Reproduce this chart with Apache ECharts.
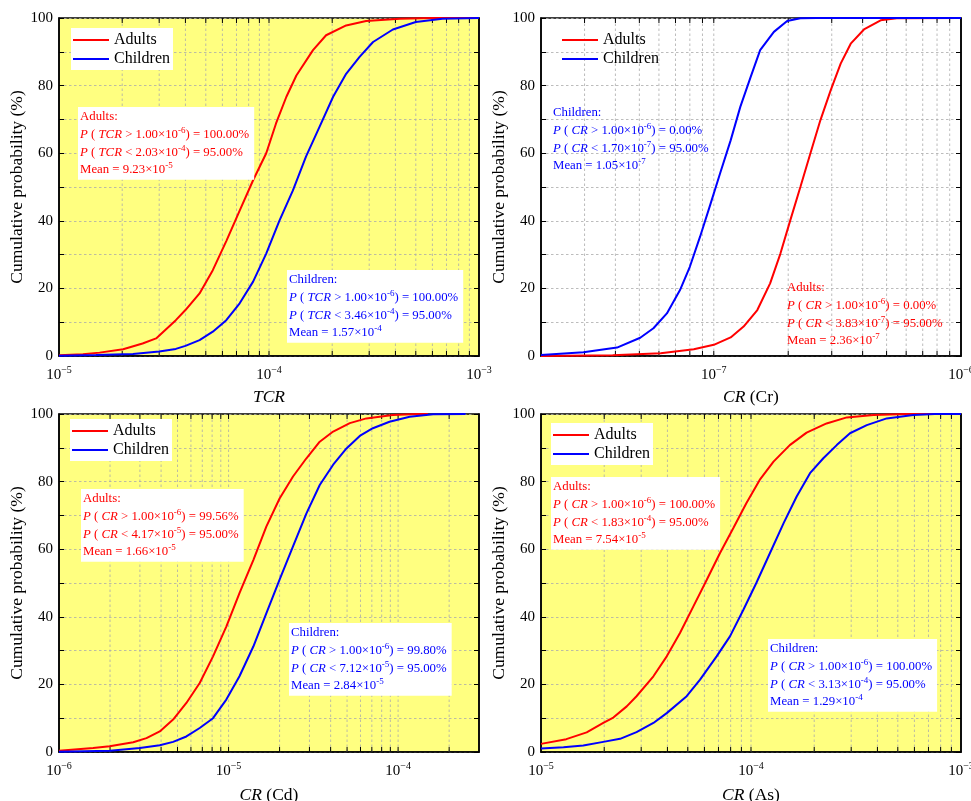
<!DOCTYPE html>
<html><head><meta charset="utf-8">
<script src="https://cdn.jsdelivr.net/npm/echarts@6/dist/echarts.min.js"></script>
<style>html,body{margin:0;padding:0;background:#fff}#c{width:971px;height:801px}</style>
</head><body><div id="c"></div>
<script>
const FONT = '"Liberation Serif", "Times New Roman", serif';

// ---------- DATA ----------
const seriesNames = ['Adults', 'Children'];
const yTicks = [0, 20, 40, 60, 80, 100];

// Panel 1: TCR
const tcrAdultsX = [1e-5, 1.3e-5, 1.56e-5, 2.02e-5, 2.5e-5, 2.9e-5, 3.6e-5, 4.0e-5, 4.67e-5, 5.4e-5, 6.26e-5, 7.25e-5, 8.4e-5, 9.7e-5, 1.08e-4, 1.21e-4, 1.35e-4, 1.62e-4, 1.87e-4, 2.33e-4, 2.9e-4, 4.2e-4, 6e-4, 1e-3];
const tcrAdultsY = [0.2, 0.5, 1.0, 2.0, 3.7, 5.2, 10.6, 13.6, 18.5, 25.4, 34, 43, 52, 60, 68.8, 76.7, 83, 90.5, 94.9, 97.8, 99.1, 99.8, 100, 100];
const tcrChildrenX = [1e-5, 1.5e-5, 2.25e-5, 3.0e-5, 3.6e-5, 4.0e-5, 4.67e-5, 5.4e-5, 6.26e-5, 7.25e-5, 8.4e-5, 9.7e-5, 1.12e-4, 1.3e-4, 1.5e-4, 1.74e-4, 2.02e-4, 2.33e-4, 2.7e-4, 3.13e-4, 3.89e-4, 5.0e-4, 6.7e-4, 1e-3];
const tcrChildrenY = [0.1, 0.3, 0.6, 1.3, 2.1, 3.0, 4.7, 7.2, 10.6, 15.6, 22, 30.3, 40, 49, 59, 67.8, 76.7, 83.5, 88.5, 92.9, 96.6, 98.8, 99.8, 100];

// Panel 2: CR (Cr)
const crAdultsX = [2e-8, 3.9e-8, 6.1e-8, 8.3e-8, 1e-7, 1.17e-7, 1.32e-7, 1.5e-7, 1.69e-7, 1.86e-7, 2.04e-7, 2.24e-7, 2.46e-7, 2.7e-7, 2.97e-7, 3.26e-7, 3.58e-7, 4.05e-7, 4.73e-7, 5.5e-7, 1e-6];
const crAdultsY = [0, 0.2, 0.8, 2.0, 3.3, 5.5, 8.7, 13.6, 21.5, 30.3, 40.2, 50, 60, 69.8, 78.6, 86.5, 92.4, 96.6, 99.3, 99.9, 100];
const crChildrenX = [2e-8, 2.97e-8, 4.06e-8, 5.04e-8, 5.7e-8, 6.46e-8, 7.3e-8, 8.0e-8, 8.8e-8, 9.7e-8, 1.06e-7, 1.17e-7, 1.28e-7, 1.41e-7, 1.54e-7, 1.75e-7, 1.98e-7, 2.24e-7, 2.6e-7, 1e-6];
const crChildrenY = [0.3, 1.1, 2.5, 5.4, 8.2, 12.6, 19.5, 26.4, 35.3, 45, 54, 63.8, 73.7, 82.6, 90.5, 95.9, 99.1, 99.9, 100, 100];

// Panel 3: CR (Cd)
const cdAdultsX = [1e-6, 1.59e-6, 1.99e-6, 2.74e-6, 3.28e-6, 3.93e-6, 4.71e-6, 5.64e-6, 6.76e-6, 8.1e-6, 9.7e-6, 1.16e-5, 1.4e-5, 1.67e-5, 2.0e-5, 2.4e-5, 2.88e-5, 3.45e-5, 4.14e-5, 5.19e-5, 6.5e-5, 9.3e-5, 1.3e-4, 1.5e-4];
const cdAdultsY = [0.4, 1.2, 1.7, 2.9, 4.1, 6.1, 9.6, 14.5, 20.4, 28.3, 37.1, 47, 56.8, 66.7, 75, 81.5, 86.9, 91.8, 94.8, 97.3, 98.7, 99.7, 100, 100];
const cdChildrenX = [1e-6, 2e-6, 3e-6, 3.93e-6, 4.71e-6, 5.64e-6, 6.76e-6, 8.1e-6, 9.7e-6, 1.16e-5, 1.4e-5, 1.67e-5, 2.0e-5, 2.4e-5, 2.88e-5, 3.45e-5, 4.14e-5, 4.96e-5, 5.94e-5, 7.1e-5, 8.9e-5, 1.17e-4, 1.61e-4, 2.5e-4];
const cdChildrenY = [0.1, 0.4, 1.2, 2.0, 3.0, 4.6, 7.1, 10, 15.5, 22.4, 31.2, 41, 51, 60.8, 70.6, 79, 85, 89.8, 93.5, 95.8, 97.7, 99.2, 99.9, 100];

// Panel 4: CR (As)
const asAdultsX = [1e-5, 1.32e-5, 1.65e-5, 1.98e-5, 2.21e-5, 2.56e-5, 2.85e-5, 3.43e-5, 3.97e-5, 4.59e-5, 5.31e-5, 6.15e-5, 7.11e-5, 8.23e-5, 9.5e-5, 1.1e-4, 1.28e-4, 1.53e-4, 1.84e-4, 2.29e-4, 2.86e-4, 3.83e-4, 5.5e-4, 1e-3];
const asAdultsY = [2.4, 3.8, 5.8, 8.6, 10.2, 13.5, 16.5, 22.4, 28.3, 35.2, 43, 50.9, 58.8, 66.2, 73.6, 80.5, 85.9, 90.8, 94.5, 97.2, 99, 99.7, 100, 100];
const asChildrenX = [1e-5, 1.28e-5, 1.59e-5, 1.98e-5, 2.38e-5, 2.85e-5, 3.43e-5, 3.97e-5, 4.94e-5, 5.72e-5, 6.86e-5, 7.94e-5, 9.2e-5, 1.06e-4, 1.23e-4, 1.43e-4, 1.65e-4, 1.91e-4, 2.21e-4, 2.56e-4, 2.96e-4, 3.56e-4, 4.43e-4, 5.93e-4, 7.5e-4, 1e-3];
const asChildrenY = [1, 1.4, 1.9, 3, 3.9, 5.9, 8.6, 11.5, 16.5, 21.4, 28.3, 34.2, 42.1, 50, 58.8, 67.7, 75.6, 82.5, 86.9, 90.8, 94.3, 96.7, 98.7, 99.7, 100, 100];

// x-axis ranges and tick values (decades and in-decade multipliers)
const xMins = [1e-5, 2e-8, 1e-6, 1e-5];
const xMaxs = [1e-3, 1e-6, 3e-4, 1e-3];
const decades = [1e-9, 1e-8, 1e-7, 1e-6, 1e-5, 1e-4, 1e-3];
const multipliers = [1, 2, 3, 4, 5, 6, 7, 8, 9];
const xTitles = ['{i|TCR}', '{i|CR} (Cr)', '{i|CR} (Cd)', '{i|CR} (As)'];

// annotation texts
const annotTexts = [
  [ // panel 1 adults
    'Adults:',
    '{i|P} ( {i|TCR} > 1.00×10{s|-6}) = 100.00%',
    '{i|P} ( {i|TCR} < 2.03×10{s|-4}) = 95.00%',
    'Mean = 9.23×10{s|-5}'
  ],
  [ // panel 1 children
    'Children:',
    '{i|P} ( {i|TCR} > 1.00×10{s|-6}) = 100.00%',
    '{i|P} ( {i|TCR} < 3.46×10{s|-4}) = 95.00%',
    'Mean = 1.57×10{s|-4}'
  ],
  [ // panel 2 children
    'Children:',
    '{i|P} ( {i|CR} > 1.00×10{s|-6}) = 0.00%',
    '{i|P} ( {i|CR} < 1.70×10{s|-7}) = 95.00%',
    'Mean = 1.05×10{s|-7}'
  ],
  [ // panel 2 adults
    'Adults:',
    '{i|P} ( {i|CR} > 1.00×10{s|-6}) = 0.00%',
    '{i|P} ( {i|CR} < 3.83×10{s|-7}) = 95.00%',
    'Mean = 2.36×10{s|-7}'
  ],
  [ // panel 3 adults
    'Adults:',
    '{i|P} ( {i|CR} > 1.00×10{s|-6}) = 99.56%',
    '{i|P} ( {i|CR} < 4.17×10{s|-5}) = 95.00%',
    'Mean = 1.66×10{s|-5}'
  ],
  [ // panel 3 children
    'Children:',
    '{i|P} ( {i|CR} > 1.00×10{s|-6}) = 99.80%',
    '{i|P} ( {i|CR} < 7.12×10{s|-5}) = 95.00%',
    'Mean = 2.84×10{s|-5}'
  ],
  [ // panel 4 adults
    'Adults:',
    '{i|P} ( {i|CR} > 1.00×10{s|-6}) = 100.00%',
    '{i|P} ( {i|CR} < 1.83×10{s|-4}) = 95.00%',
    'Mean = 7.54×10{s|-5}'
  ],
  [ // panel 4 children
    'Children:',
    '{i|P} ( {i|CR} > 1.00×10{s|-6}) = 100.00%',
    '{i|P} ( {i|CR} < 3.13×10{s|-4}) = 95.00%',
    'Mean = 1.29×10{s|-4}'
  ]
];

// ---------- LAYOUT / STYLE ----------
const RED = '#FF0000', BLUE = '#0000FF';
const GRIDLINE = '#ababab';
const grids = [
  {left: 59, top: 18, width: 420, height: 338, bg: '#FFFF80', nameGap: 32},
  {left: 541, top: 18, width: 420, height: 338, bg: '#FFFFFF', nameGap: 32},
  {left: 59, top: 414, width: 420, height: 338, bg: '#FFFF80', nameGap: 34},
  {left: 541, top: 414, width: 420, height: 338, bg: '#FFFF80', nameGap: 34}
];
const legendPos = [
  {left: 71, top: 28, bg: '#fff'},
  {left: 560, top: 28, bg: 'transparent'},
  {left: 70, top: 419, bg: '#fff'},
  {left: 551, top: 423, bg: '#fff'}
];
const annotPos = [
  {left: 78, top: 107, color: RED, bg: '#fff'},
  {left: 287, top: 270, color: BLUE, bg: '#fff'},
  {left: 551, top: 103, color: BLUE, bg: 'transparent'},
  {left: 785, top: 278, color: RED, bg: 'transparent'},
  {left: 81, top: 489, color: RED, bg: '#fff'},
  {left: 289, top: 623, color: BLUE, bg: '#fff'},
  {left: 551, top: 477, color: RED, bg: '#fff'},
  {left: 768, top: 639, color: BLUE, bg: '#fff'}
];

const zip = (xs, ys) => xs.map((x, i) => [x, ys[i]]);
const panelData = [
  [zip(tcrAdultsX, tcrAdultsY), zip(tcrChildrenX, tcrChildrenY)],
  [zip(crAdultsX, crAdultsY), zip(crChildrenX, crChildrenY)],
  [zip(cdAdultsX, cdAdultsY), zip(cdChildrenX, cdChildrenY)],
  [zip(asAdultsX, asAdultsY), zip(asChildrenX, asChildrenY)]
];

const allXTicks = [];
decades.forEach(d => multipliers.forEach(m => allXTicks.push(+(m * d).toPrecision(6))));

function supStyle(color, size, raise) {
  return {fontFamily: FONT, fontSize: size, color: color, fill: color, padding: [0, 0, raise, 0]};
}

const AF = 12.8; // annotation font size
const option = {
  animation: false,
  backgroundColor: '#fff',
  grid: grids.map(g => ({left: g.left, top: g.top, width: g.width, height: g.height, show: true,
    backgroundColor: g.bg, borderColor: '#000', borderWidth: 1.5, containLabel: false,
    outerBoundsMode: 'none'})),
  xAxis: grids.map((g, i) => ({
    type: 'log', logBase: 10, gridIndex: i, min: xMins[i], max: xMaxs[i],
    name: xTitles[i], nameLocation: 'middle', nameGap: g.nameGap,
    nameTextStyle: {fontFamily: FONT, fontSize: 17.5, color: '#000',
      rich: {i: {fontFamily: FONT, fontSize: 17.5, fontStyle: 'italic', color: '#000'}}},
    axisLine: {show: true, onZero: false, lineStyle: {color: '#000', width: 1.5}},
    axisTick: {show: false},
    splitLine: {show: false},
    minorTick: {show: false},
    axisLabel: {
      show: true, showMinLabel: true, showMaxLabel: true, margin: 9, hideOverlap: false,
      fontFamily: FONT, fontSize: 15, color: '#000',
      formatter: v => {
        const e = Math.log10(v);
        if (Math.abs(e - Math.round(e)) > 1e-6) return '';
        return '10{s|\u2212' + Math.abs(Math.round(e)) + '}';
      },
      rich: {s: supStyle('#000', 10, 10)}
    }
  })),
  yAxis: [].concat(...grids.map((g, i) => [
    {
      type: 'value', gridIndex: i, min: 0, max: 100, interval: 10, position: 'left',
      name: 'Cumulative probability (%)', nameLocation: 'middle', nameGap: 29,
      nameTextStyle: {fontFamily: FONT, fontSize: 17.5, color: '#000'},
      axisLine: {show: true, lineStyle: {color: '#000', width: 1.5}},
      axisTick: {show: true, inside: true, length: 5, lineStyle: {color: '#000', width: 1}},
      axisLabel: {fontFamily: FONT, fontSize: 15, color: '#000', margin: 6,
        formatter: v => (yTicks.indexOf(v) >= 0 ? String(v) : '')},
      splitLine: {show: true, lineStyle: {color: GRIDLINE, width: 0.8, type: [2.5, 2.5]}}
    },
    {
      type: 'value', gridIndex: i, min: 0, max: 100, interval: 10, position: 'right',
      axisLine: {show: true, lineStyle: {color: '#000', width: 1.5}},
      axisTick: {show: true, inside: true, length: 5, lineStyle: {color: '#000', width: 1}},
      axisLabel: {show: false},
      splitLine: {show: false}
    }
  ])),
  legend: legendPos.map(l => ({
    data: seriesNames, orient: 'vertical', left: l.left, top: l.top,
    backgroundColor: l.bg, padding: [4, 3, 3, 2], itemGap: 3,
    itemWidth: 36, itemHeight: 2, icon: 'rect', selectedMode: false,
    textStyle: {fontFamily: FONT, fontSize: 16, color: '#000'}
  })),
  series: [].concat(...grids.map((g, i) => {
    const ticks = allXTicks.filter(t => t > xMins[i] * 1.0001 && t < xMaxs[i] * 0.9999).map(t => [t, 0]);
    return [
      {
        type: 'custom', xAxisIndex: i, yAxisIndex: 2 * i, z: 1, silent: true,
        data: ticks,
        renderItem: (params, api) => {
          const x = api.value(0);
          const b = api.coord([x, 0]);
          const t = api.coord([x, 100]);
          return {type: 'group', children: [
            {type: 'line', shape: {x1: b[0], y1: b[1], x2: t[0], y2: t[1]},
              style: {stroke: GRIDLINE, lineWidth: 0.8, lineDash: [2.5, 2.5]}},
            {type: 'line', shape: {x1: b[0], y1: b[1], x2: b[0], y2: b[1] - 5},
              style: {stroke: '#000', lineWidth: 1}},
            {type: 'line', shape: {x1: t[0], y1: t[1], x2: t[0], y2: t[1] + 5},
              style: {stroke: '#000', lineWidth: 1}}
          ]};
        }
      },
      {
        name: seriesNames[0], type: 'line', xAxisIndex: i, yAxisIndex: 2 * i, z: 3,
        data: panelData[i][0], showSymbol: false, symbol: 'none', color: RED,
        lineStyle: {color: RED, width: 2}
      },
      {
        name: seriesNames[1], type: 'line', xAxisIndex: i, yAxisIndex: 2 * i, z: 4,
        data: panelData[i][1], showSymbol: false, symbol: 'none', color: BLUE,
        lineStyle: {color: BLUE, width: 2}
      }
    ];
  })),
  graphic: annotPos.map((a, k) => ({
    type: 'text', left: a.left, top: a.top, z: 100,
    style: {
      text: annotTexts[k].join('\n'),
      fill: a.color, fontFamily: FONT, fontSize: AF, lineHeight: 17.7,
      backgroundColor: a.bg, padding: [1, 5, 1, 2],
      rich: {
        i: {fontFamily: FONT, fontSize: AF, fontStyle: 'italic', fill: a.color, color: a.color, lineHeight: 17.7},
        s: {fontFamily: FONT, fontSize: 9, fill: a.color, color: a.color, lineHeight: 17.7, padding: [0, 0, 8, 0]}
      }
    }
  }))
};

const chart = echarts.init(document.getElementById('c'), null, {renderer: 'canvas'});
chart.setOption(option);
</script>
</body></html>
